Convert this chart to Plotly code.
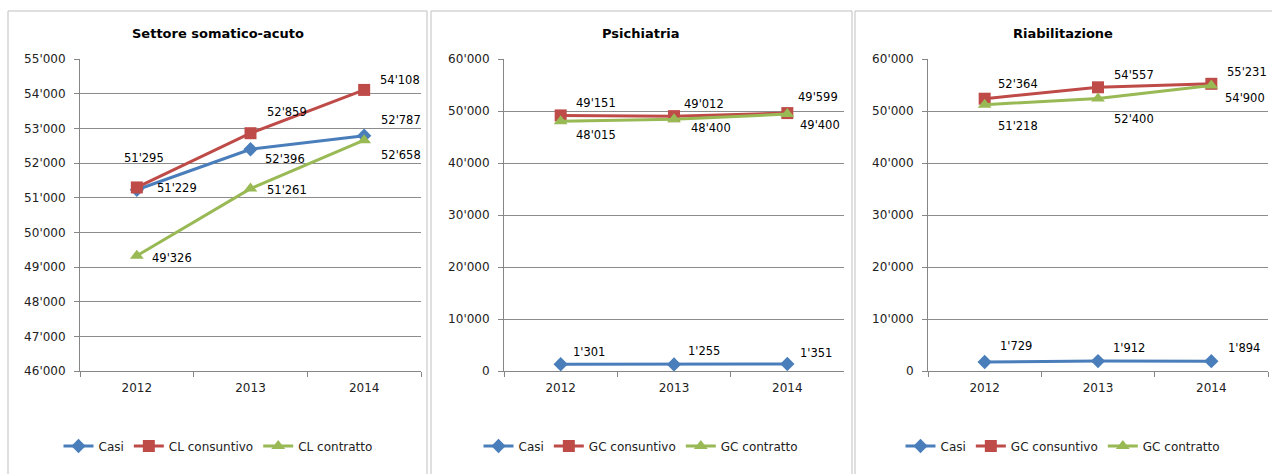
import plotly.graph_objects as go

W, H = 1272, 474

years = ["2012", "2013", "2014"]

titles = ["Settore somatico-acuto", "Psichiatria", "Riabilitazione"]
series_names = [
    ["Casi", "CL consuntivo", "CL contratto"],
    ["Casi", "GC consuntivo", "GC contratto"],
    ["Casi", "GC consuntivo", "GC contratto"],
]

# Panel 1: Settore somatico-acuto
acuto_casi = [51229, 52396, 52787]
acuto_consuntivo = [51295, 52859, 54108]
acuto_contratto = [49326, 51261, 52658]
# Panel 2: Psichiatria
psi_casi = [1301, 1255, 1351]
psi_consuntivo = [49151, 49012, 49599]
psi_contratto = [48015, 48400, 49400]
# Panel 3: Riabilitazione
riab_casi = [1729, 1912, 1894]
riab_consuntivo = [52364, 54557, 55231]
riab_contratto = [51218, 52400, 54900]

panel_data = [
    [acuto_casi, acuto_consuntivo, acuto_contratto],
    [psi_casi, psi_consuntivo, psi_contratto],
    [riab_casi, riab_consuntivo, riab_contratto],
]

y_ranges = [(46000, 55000, 1000), (0, 60000, 10000), (0, 60000, 10000)]

# label offsets (pixels, dx, dy up) per panel/series/point
label_offsets = [
    [[(40, 2), (34, -10), (37, 16)],
     [(7, 29), (36, 21), (36, 10)],
     [(35, -2), (36, -1), (37, -15)]],
    [[(28, 12), (30, 13), (29, 11)],
     [(35, 12), (30, 12), (31, 16)],
     [(35, -14), (37, -9), (33, -11)]],
    [[(31, 16), (31, 13), (33, 13)],
     [(33, 15), (36, 12), (36, 12)],
     [(33, -21), (36, -20), (34, -12)]],
]

colors = ["#4A7EBB", "#BE4B48", "#98B954"]
symbols = ["diamond", "square", "triangle-up"]
msizes = [11, 12, 12]

plot_x = [(80, 421), (504, 844), (928, 1268)]
plot_top, plot_bot = 59, 371
panel_boxes = [(8, 427), (431, 852), (855, 1290)]
panel_centers = [218, 641, 1063]

FONT = "DejaVu Sans"

def px(x):
    return x / W

def py(y):
    return 1 - y / H

fig = go.Figure()

annotations = []
shapes = []
for p in range(3):
    xa = "x" if p == 0 else f"x{p+1}"
    ya = "y" if p == 0 else f"y{p+1}"
    leg = "legend" if p == 0 else f"legend{p+1}"
    for s in range(3):
        vals = panel_data[p][s]
        fig.add_trace(go.Scatter(
            x=years, y=vals, name=series_names[p][s],
            mode="lines+markers",
            line=dict(color=colors[s], width=3),
            marker=dict(symbol=symbols[s], size=msizes[s], color=colors[s]),
            xaxis=xa, yaxis=ya, legend=leg,
            hoverinfo="skip",
        ))
        for i, v in enumerate(vals):
            dx, dy = label_offsets[p][s][i]
            annotations.append(dict(
                x=i, y=v, xref=xa, yref=ya,
                text=f"{v:,}".replace(",", "'"),
                showarrow=False, xanchor="center", yanchor="middle",
                xshift=dx, yshift=dy,
                font=dict(family=FONT, size=11.5, color="#000000"),
            ))
    x0, x1 = plot_x[p]
    lo, hi, dt = y_ranges[p]
    fig.update_layout(**{
        ("xaxis" if p == 0 else f"xaxis{p+1}"): dict(
            domain=[px(x0), px(x1)], anchor=ya,
            type="category", range=[-0.5, 2.5],
            tickson="boundaries", ticks="outside", ticklen=5,
            tickcolor="#868686", showline=True, linecolor="#868686",
            linewidth=1, showgrid=False, zeroline=False,
            tickfont=dict(family=FONT, size=12, color="#222222"),
            ticklabelstandoff=6, fixedrange=True, automargin=False,
        ),
        ("yaxis" if p == 0 else f"yaxis{p+1}"): dict(
            domain=[py(plot_bot), py(plot_top)], anchor=xa,
            range=[lo, hi], dtick=dt, tick0=lo,
            ticks="outside", ticklen=5, tickcolor="#868686",
            showline=True, linecolor="#868686", linewidth=1,
            showgrid=True, gridcolor="#8C8C8C", gridwidth=1,
            zeroline=False, tickformat=",",
            tickfont=dict(family=FONT, size=12, color="#222222"),
            ticklabelstandoff=6, fixedrange=True, automargin=False,
        ),
        leg: dict(
            orientation="h", x=px(panel_centers[p]),
            xanchor="center", y=py(446), yanchor="middle",
            font=dict(family=FONT, size=12, color="#222222"),
            bgcolor="rgba(0,0,0,0)", itemwidth=30, tracegroupgap=0,
        ),
    })
    bx0, bx1 = panel_boxes[p]
    shapes.append(dict(
        type="rect", xref="paper", yref="paper",
        x0=px(bx0), x1=px(bx1), y0=py(490), y1=py(11),
        line=dict(color="#BFBFBF", width=1), fillcolor="rgba(0,0,0,0)",
        layer="below",
    ))
    annotations.append(dict(
        x=px(panel_centers[p]), y=py(33),
        xref="paper", yref="paper", text=f"<b>{titles[p]}</b>",
        showarrow=False, xanchor="center", yanchor="middle",
        font=dict(family=FONT, size=13, color="#000000"),
    ))

fig.update_layout(
    width=W, height=H,
    margin=dict(l=0, r=0, t=0, b=0, pad=0, autoexpand=False),
    paper_bgcolor="white", plot_bgcolor="white",
    separators=".'",
    annotations=annotations, shapes=shapes,
    showlegend=True,
)

post = (
    "document.documentElement.style.overflow='hidden';"
    "document.body.style.margin='0';"
    "document.body.style.padding='0';"
    "document.body.style.overflow='hidden';"
    "document.body.style.height='474px';"
    "var d=document.getElementById('{plot_id}');"
    "d.style.position='fixed';d.style.top='0px';d.style.left='0px';"
)

fig.write_html(
    "out.html",
    config={"displayModeBar": False},
    post_script=post,
)
